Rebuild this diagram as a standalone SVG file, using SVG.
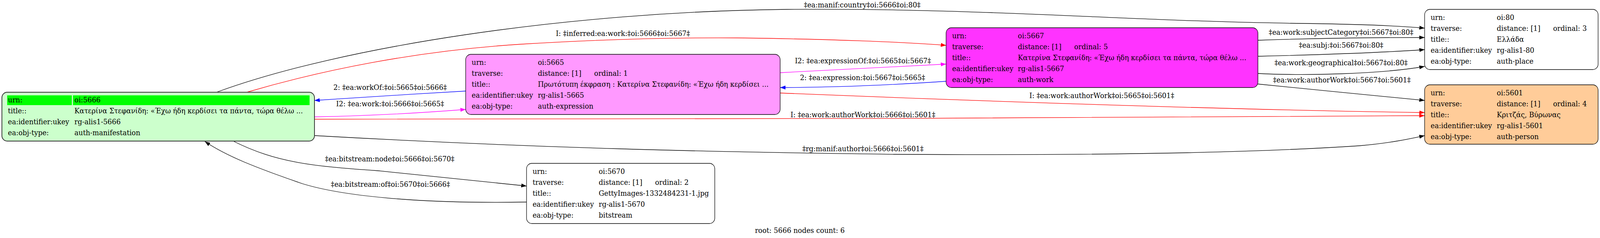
<svg xmlns="http://www.w3.org/2000/svg" width="4233" height="609" viewBox="0 0 4233 609">
<style>
text{font-family:"DejaVu Serif","Liberation Serif",serif;font-size:18.2px;fill:#000}
.lbl{text-anchor:middle}
.nb{stroke:#000;stroke-width:1.3}
.e{fill:none;stroke-width:1.3}
.k{stroke:#000}.r{stroke:#ff0000}.b{stroke:#0000ff}.m{stroke:#ff00ff}
</style>
<defs>
<marker id="ak" markerUnits="userSpaceOnUse" markerWidth="16" markerHeight="12" refX="14" refY="5" orient="auto"><path d="M0,0L14,5L0,10z" fill="#000"/></marker>
<marker id="ar" markerUnits="userSpaceOnUse" markerWidth="16" markerHeight="12" refX="14" refY="5" orient="auto"><path d="M0,0L14,5L0,10z" fill="#ff0000"/></marker>
<marker id="ab" markerUnits="userSpaceOnUse" markerWidth="16" markerHeight="12" refX="14" refY="5" orient="auto"><path d="M0,0L14,5L0,10z" fill="#0000ff"/></marker>
<marker id="am" markerUnits="userSpaceOnUse" markerWidth="16" markerHeight="12" refX="14" refY="5" orient="auto"><path d="M0,0L14,5L0,10z" fill="#ff00ff"/></marker>
</defs>
<rect width="4233" height="609" fill="#fff"/>
<g id="diagram" transform="scale(0.96764,1)">
<g id="edges">
<path class="e k" d="M573,236 C900,120 1500,30 2082,24 C2600,20 3000,55 3450,60 C3600,62 3700,66 3769,72" marker-end="url(#ak)"/>
<text class="lbl" x="2281" y="19">‡ea:manif:country‡oi:5666‡oi:80‡</text>
<path class="e r" d="M653,236 C850,180 1100,130 1380,113 C1600,100 1800,96 1950,97 C2200,100 2400,108 2503,116" marker-end="url(#ar)"/>
<text class="lbl" x="1648" y="92">I: ‡inferred:ea:work:‡oi:5666‡oi:5667‡</text>
<path class="e b" d="M1232,233 C1100,240 950,250 832,257" marker-end="url(#ab)"/>
<text class="lbl" x="1032" y="230">2: ‡ea:workOf:‡oi:5665‡oi:5666‡</text>
<path class="e m" d="M832,299 C950,297 1100,290 1232,280" marker-end="url(#am)"/>
<text class="lbl" x="1032" y="272">I2: ‡ea:work:‡oi:5666‡oi:5665‡</text>
<path class="e r" d="M832,305 C1500,309 3000,300 3769,296" marker-end="url(#ar)"/>
<text class="lbl" x="2283" y="300">I: ‡ea:work:authorWork‡oi:5666‡oi:5601‡</text>
<path class="e r" d="M2064,238 C2500,255 3200,280 3769,288" marker-end="url(#ar)"/>
<text class="lbl" x="2915" y="251">I: ‡ea:work:authorWork‡oi:5665‡oi:5601‡</text>
<path class="e m" d="M2064,186 C2250,178 2400,170 2503,164" marker-end="url(#am)"/>
<text class="lbl" x="2283" y="162">I2: ‡ea:expressionOf:‡oi:5665‡oi:5667‡</text>
<path class="e b" d="M2503,208 C2350,218 2200,224 2064,224" marker-end="url(#ab)"/>
<text class="lbl" x="2282" y="205">2: ‡ea:expression:‡oi:5667‡oi:5665‡</text>
<path class="e k" d="M3328,103 C3500,97 3650,96 3769,96" marker-end="url(#ak)"/>
<text class="lbl" x="3548" y="89">‡ea:work:subjectCategory‡oi:5667‡oi:80‡</text>
<path class="e k" d="M3328,144 C3500,140 3650,135 3769,127" marker-end="url(#ak)"/>
<text class="lbl" x="3548" y="122">‡ea:subj:‡oi:5667‡oi:80‡</text>
<path class="e k" d="M3328,188 C3450,194 3650,190 3769,170" marker-end="url(#ak)"/>
<text class="lbl" x="3548" y="167">‡ea:work:geographical‡oi:5667‡oi:80‡</text>
<path class="e k" d="M3328,215 C3450,228 3650,245 3769,257" marker-end="url(#ak)"/>
<text class="lbl" x="3550" y="211">‡ea:work:authorWork‡oi:5667‡oi:5601‡</text>
<path class="e k" d="M833,347 C1400,378 1900,390 2385,395 C2900,398 3300,392 3596,373 C3680,366 3730,355 3769,347" marker-end="url(#ak)"/>
<text class="lbl" x="2283" y="387">‡rg:manif:author‡oi:5666‡oi:5601‡</text>
<path class="e k" d="M619,362 C730,415 820,425 1001,437 C1150,452 1300,466 1393,476" marker-end="url(#ak)"/>
<text class="lbl" x="1031" y="413">‡ea:bitstream:node‡oi:5666‡oi:5670‡</text>
<path class="e k" d="M1393,517 C1100,522 900,500 800,470 C680,430 600,400 542,362" marker-end="url(#ak)"/>
<text class="lbl" x="1033" y="478">‡ea:bitstream:of‡oi:5670‡oi:5666‡</text>
</g>
<g id="n5666">
<rect x="5" y="236" width="827" height="125" rx="14" fill="#ccffcc" stroke="#333" stroke-width="2"/>
<rect x="19" y="244" width="171" height="25" fill="#00ff00"/>
<rect x="193" y="244" width="626" height="25" fill="#00ff00"/>
<text x="21" y="262">urn:</text><text x="197" y="262">oi:5666</text>
<text x="21" y="290">title::</text><text x="197" y="290">Κατερίνα Στεφανίδη: «Έχω ήδη κερδίσει τα πάντα, τώρα θέλω ...</text>
<text x="21" y="318">ea:identifier:ukey</text><text x="197" y="318">rg-alis1-5666</text>
<text x="21" y="346">ea:obj-type:</text><text x="197" y="346">auth-manifestation</text>
</g>
<g id="n5665">
<rect x="1232" y="139" width="832" height="154" rx="14" fill="#ff99ff" class="nb"/>
<text x="1248" y="166">urn:</text><text x="1423" y="166">oi:5665</text>
<text x="1248" y="194">traverse:</text><text x="1423" y="194">distance: [1]</text><text x="1572" y="194">ordinal: 1</text>
<text x="1248" y="222">title::</text><text x="1423" y="222">Πρωτότυπη έκφραση : Κατερίνα Στεφανίδη: «Έχω ήδη κερδίσει ...</text>
<text x="1248" y="250">ea:identifier:ukey</text><text x="1423" y="250">rg-alis1-5665</text>
<text x="1248" y="278">ea:obj-type:</text><text x="1423" y="278">auth-expression</text>
</g>
<g id="n5667">
<rect x="2503" y="71" width="825" height="153" rx="14" fill="#ff33ff" class="nb"/>
<text x="2519" y="98">urn:</text><text x="2693" y="98">oi:5667</text>
<text x="2519" y="126">traverse:</text><text x="2693" y="126">distance: [1]</text><text x="2842" y="126">ordinal: 5</text>
<text x="2519" y="154">title::</text><text x="2693" y="154">Κατερίνα Στεφανίδη: «Έχω ήδη κερδίσει τα πάντα, τώρα θέλω ...</text>
<text x="2519" y="182">ea:identifier:ukey</text><text x="2693" y="182">rg-alis1-5667</text>
<text x="2519" y="210">ea:obj-type:</text><text x="2693" y="210">auth-work</text>
</g>
<g id="n80">
<rect x="3769" y="24" width="459" height="154" rx="14" fill="#fff" class="nb"/>
<text x="3785" y="51">urn:</text><text x="3960" y="51">oi:80</text>
<text x="3785" y="79">traverse:</text><text x="3960" y="79">distance: [1]</text><text x="4109" y="79">ordinal: 3</text>
<text x="3785" y="107">title::</text><text x="3960" y="107">Ελλάδα</text>
<text x="3785" y="135">ea:identifier:ukey</text><text x="3960" y="135">rg-alis1-80</text>
<text x="3785" y="163">ea:obj-type:</text><text x="3960" y="163">auth-place</text>
</g>
<g id="n5601">
<rect x="3769" y="217" width="459" height="152" rx="14" fill="#ffcc99" class="nb"/>
<text x="3785" y="244">urn:</text><text x="3960" y="244">oi:5601</text>
<text x="3785" y="272">traverse:</text><text x="3960" y="272">distance: [1]</text><text x="4109" y="272">ordinal: 4</text>
<text x="3785" y="300">title::</text><text x="3960" y="300">Κριτζάς, Βύρωνας</text>
<text x="3785" y="328">ea:identifier:ukey</text><text x="3960" y="328">rg-alis1-5601</text>
<text x="3785" y="356">ea:obj-type:</text><text x="3960" y="356">auth-person</text>
</g>
<g id="n5670">
<rect x="1393" y="418" width="498" height="154" rx="14" fill="#fff" class="nb"/>
<text x="1409" y="445">urn:</text><text x="1584" y="445">oi:5670</text>
<text x="1409" y="473">traverse:</text><text x="1584" y="473">distance: [1]</text><text x="1733" y="473">ordinal: 2</text>
<text x="1409" y="501">title::</text><text x="1584" y="501">GettyImages-1332484231-1.jpg</text>
<text x="1409" y="529">ea:identifier:ukey</text><text x="1584" y="529">rg-alis1-5670</text>
<text x="1409" y="557">ea:obj-type:</text><text x="1584" y="557">bitstream</text>
</g>
<text class="lbl" x="2116" y="596">root: 5666 nodes count: 6</text>
</g>
</svg>
